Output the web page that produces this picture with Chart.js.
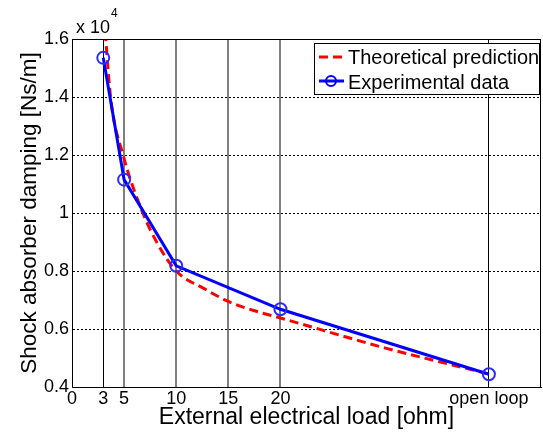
<!DOCTYPE html>
<html>
<head>
<meta charset="utf-8">
<script src="https://cdn.jsdelivr.net/npm/chart.js@4"></script>
<style>
  html, body { margin: 0; padding: 0; background: #fff; }
  #wrap { width: 543px; height: 432px; }
</style>
</head>
<body>
<div id="wrap"><canvas id="dampingChart" width="543" height="432"></canvas></div>
<script>
// axis ticks
const xTicks = [0, 3, 5, 10, 15, 20, 40];
const xTickLabels = ['0', '3', '5', '10', '15', '20', 'open loop'];
const yTicks = [0.4, 0.6, 0.8, 1.0, 1.2, 1.4, 1.6];

// measured damping (x 10^4 Ns/m)
const expLoad = [3, 5, 10, 20, 40];
const expDamping = [1.535, 1.115, 0.818, 0.668, 0.444];

// model curve
const theoryLoad = [3, 3.7, 4.9, 6.8, 8.2, 10, 12.8, 15, 17.6, 20, 30, 40];
const theoryDamping = [1.72, 1.40, 1.20, 1.00, 0.895, 0.80, 0.737, 0.695, 0.662, 0.638, 0.535, 0.445];

const FONT = "'Liberation Sans', Arial, sans-serif";

function toPoints(xs, ys) {
    return xs.map((x, i) => ({ x: x, y: ys[i] }));
}

// frame, exponent label and legend box
const decorPlugin = {
    id: 'decor',
    afterDraw(chart) {
        const ctx = chart.ctx;
        const a = chart.chartArea;
        ctx.save();
        ctx.strokeStyle = '#000';
        ctx.lineWidth = 1;
        ctx.setLineDash([]);
        ctx.strokeRect(Math.round(a.left) + 0.5, Math.round(a.top) + 0.5,
            Math.round(a.right - a.left) - 1, Math.round(a.bottom - a.top));

        // x 10^4
        ctx.fillStyle = '#000';
        ctx.textBaseline = 'alphabetic';
        ctx.textAlign = 'left';
        ctx.font = '18px ' + FONT;
        ctx.fillText('x 10', 76, 33);
        ctx.font = '12px ' + FONT;
        ctx.fillText('4', 111, 17);

        // legend
        const lx = 314, ly = 43, lw = 225, lh = 51;
        ctx.fillStyle = '#fff';
        ctx.fillRect(lx, ly, lw, lh);
        ctx.strokeStyle = '#000';
        ctx.strokeRect(lx + 0.5, ly + 0.5, lw, lh);

        ctx.lineWidth = 3;
        ctx.strokeStyle = '#ff0000';
        ctx.setLineDash([9, 5]);
        ctx.beginPath();
        ctx.moveTo(319, 57);
        ctx.lineTo(344, 57);
        ctx.stroke();

        ctx.setLineDash([]);
        ctx.strokeStyle = '#0000ff';
        ctx.beginPath();
        ctx.moveTo(319, 81);
        ctx.lineTo(344, 81);
        ctx.stroke();
        ctx.lineWidth = 2;
        ctx.beginPath();
        ctx.arc(331, 81, 5, 0, Math.PI * 2);
        ctx.stroke();

        ctx.fillStyle = '#000';
        ctx.font = '20px ' + FONT;
        ctx.fillText('Theoretical prediction', 348, 64);
        ctx.fillText('Experimental data', 348, 89);
        ctx.restore();
    }
};

const xGridColor = ctx => {
    const v = ctx.tick ? ctx.tick.value : null;
    return (v === 5 || v === 10 || v === 15 || v === 20) ? '#808080' : '#000';
};
const xGridWidth = ctx => {
    const v = ctx.tick ? ctx.tick.value : null;
    return (v === 5 || v === 10 || v === 15 || v === 20) ? 2 : 1;
};

new Chart(document.getElementById('dampingChart').getContext('2d'), {
    type: 'line',
    data: {
        datasets: [{
            label: 'Theoretical prediction',
            data: toPoints(theoryLoad, theoryDamping),
            borderColor: '#ff0000',
            borderWidth: 3,
            borderDash: [9, 5],
            pointRadius: 0,
            cubicInterpolationMode: 'monotone',
            fill: false,
            clip: 0,
            order: 1
        }, {
            label: 'Experimental data',
            data: toPoints(expLoad, expDamping),
            borderColor: '#0000ff',
            borderWidth: 3,
            pointRadius: 6,
            pointBorderWidth: 2,
            pointBorderColor: '#2b2bff',
            pointBackgroundColor: 'rgba(0,0,0,0)',
            tension: 0,
            fill: false,
            order: 0
        }]
    },
    options: {
        responsive: false,
        animation: false,
        layout: { autoPadding: false, padding: { top: 39, right: 2, left: 0, bottom: 0 } },
        plugins: {
            legend: { display: false },
            tooltip: { enabled: false }
        },
        scales: {
            x: {
                type: 'linear',
                min: 0,
                max: 45,
                afterBuildTicks: s => { s.ticks = xTicks.map(v => ({ value: v })); },
                afterFit: s => {
                    s.height = 45;
                    s.paddingLeft = 0;
                    s.paddingRight = 0;
                },
                grid: { color: xGridColor, lineWidth: xGridWidth, drawTicks: false },
                border: { color: '#000', width: 1 },
                ticks: {
                    color: '#000',
                    font: { family: FONT, size: 18 },
                    padding: 1,
                    maxRotation: 0,
                    autoSkip: false,
                    callback: v => xTickLabels[xTicks.indexOf(v)]
                },
                title: {
                    display: true,
                    text: 'External electrical load [ohm]',
                    color: '#000',
                    font: { family: FONT, size: 23 },
                    padding: { top: 0, bottom: 1 }
                }
            },
            y: {
                min: 0.4,
                max: 1.6,
                afterBuildTicks: s => { s.ticks = yTicks.map(v => ({ value: v })); },
                afterFit: s => {
                    s.width = 72;
                    s.paddingTop = 0;
                    s.paddingBottom = 0;
                },
                grid: {
                    color: '#000',
                    lineWidth: 1,
                    drawTicks: false
                },
                border: {
                    color: '#000',
                    width: 1,
                    dash: ctx => (ctx.type === 'tick' && ctx.tick.value > 0.45 && ctx.tick.value < 1.55) ? [2, 2] : []
                },
                ticks: {
                    color: '#000',
                    font: { family: FONT, size: 18 },
                    padding: 3,
                    autoSkip: false,
                    callback: v => String(+v.toFixed(1))
                },
                title: {
                    display: true,
                    text: 'Shock absorber damping [Ns/m]',
                    color: '#000',
                    font: { family: FONT, size: 22.5 },
                    padding: { top: 16, bottom: 0 }
                }
            }
        }
    },
    plugins: [decorPlugin]
});
</script>
</body>
</html>
